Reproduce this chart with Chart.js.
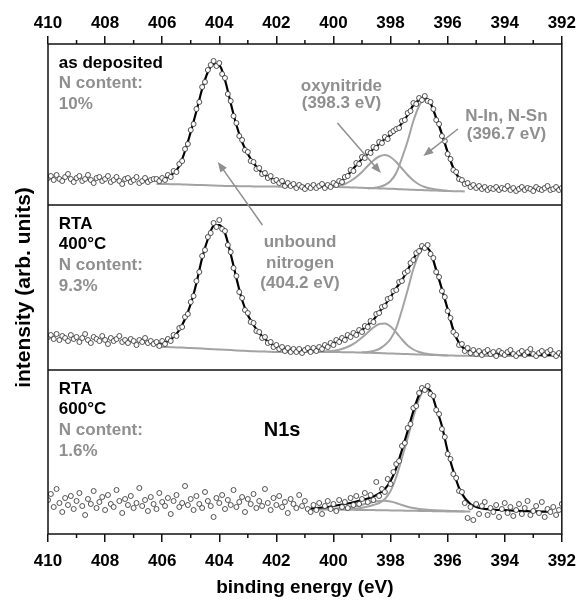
<!DOCTYPE html>
<html>
<head>
<meta charset="utf-8">
<script src="https://cdn.jsdelivr.net/npm/chart.js@4.4.1/dist/chart.umd.min.js"></script>
<style>
  body { margin: 0; background: #fff; }
  #wrap { width: 585px; height: 600px; }
</style>
</head>
<body>
<div id="wrap"><canvas id="xps" width="585" height="600"></canvas></div>
<script>
const _ = null;

// measured scan, 0.1 eV steps
const scanEnergy = [
  410.0,409.9,409.8,409.7,409.6,409.5,409.4,409.3,409.2,409.1,
  409.0,408.9,408.8,408.7,408.6,408.5,408.4,408.3,408.2,408.1,
  408.0,407.9,407.8,407.7,407.6,407.5,407.4,407.3,407.2,407.1,
  407.0,406.9,406.8,406.7,406.6,406.5,406.4,406.3,406.2,406.1,
  406.0,405.9,405.8,405.7,405.6,405.5,405.4,405.3,405.2,405.1,
  405.0,404.9,404.8,404.7,404.6,404.5,404.4,404.3,404.2,404.1,
  404.0,403.9,403.8,403.7,403.6,403.5,403.4,403.3,403.2,403.1,
  403.0,402.9,402.8,402.7,402.6,402.5,402.4,402.3,402.2,402.1,
  402.0,401.9,401.8,401.7,401.6,401.5,401.4,401.3,401.2,401.1,
  401.0,400.9,400.8,400.7,400.6,400.5,400.4,400.3,400.2,400.1,
  400.0,399.9,399.8,399.7,399.6,399.5,399.4,399.3,399.2,399.1,
  399.0,398.9,398.8,398.7,398.6,398.5,398.4,398.3,398.2,398.1,
  398.0,397.9,397.8,397.7,397.6,397.5,397.4,397.3,397.2,397.1,
  397.0,396.9,396.8,396.7,396.6,396.5,396.4,396.3,396.2,396.1,
  396.0,395.9,395.8,395.7,395.6,395.5,395.4,395.3,395.2,395.1,
  395.0,394.9,394.8,394.7,394.6,394.5,394.4,394.3,394.2,394.1,
  394.0,393.9,393.8,393.7,393.6,393.5,393.4,393.3,393.2,393.1,
  393.0,392.9,392.8,392.7,392.6,392.5,392.4,392.3,392.2,392.1,
  392.0
];

const topScan = [
  27,29,25,30,26,24,28,31,26,23, 27,29,24,26,30,25,22,27,28,24,
  26,29,23,25,28,24,21,26,27,23, 25,28,22,24,27,23,25,26,
  26,24,27,25,30,28,34,33,41,44, 56,61,75,81,96,103,118,123,135,140,
  144,139,142,131,127,111,104,89,82,69, 65,55,53,44,43,36,37,31,32,27,
  29,24,25,22,24,19,22,19,21,17, 20,18,16,19,17,20,17,19,21,17,
  20,18,22,20,24,23,28,29,35,34, 42,41,48,47,53,52,58,57,63,62,
  68,66,72,74,76,77,84,85,92,94, 102,101,107,105,109,104,103,96,85,81,
  69,64,51,46,35,33,26,25,21,22, 18,20,17,19,16,18,15,17,16,
  18,15,17,16,19,15,17,14,16,18, 15,17,16,14,18,16,15,17,19,15, 16,18,15,17
];

const midScan = [
  33,35,31,36,30,34,32,29,35,31, 33,28,32,36,30,27,33,31,29,34,
  30,26,32,29,31,34,28,30,27,31, 29,25,30,28,32,27,29,26,
  28,24,29,26,31,29,35,34,42,43, 53,56,68,74,89,98,114,120,133,137,
  147,143,150,141,139,125,118,102,94,78, 72,60,57,48,47,39,38,32,33,27,
  28,23,25,21,23,19,22,18,21,18, 21,17,20,22,18,22,19,23,21,25,
  23,27,25,30,28,32,30,35,33,37, 35,40,38,44,43,49,48,56,57,63,
  64,71,72,79,80,88,89,97,99,107, 110,117,119,124,122,125,116,112,98,93,
  79,73,59,52,38,35,25,26,19,22, 17,20,16,19,15,18,20,16,18,14,
  19,17,15,18,20,16,14,17,19,15, 18,21,16,14,17,19,15,18,20,16, 14,17,15
];

const botScan = [
  34,40,27,45,31,22,36,29,38,25, 33,41,28,19,35,30,43,26,32,37,
  24,39,30,27,44,33,21,35,29,38, 26,31,46,28,34,23,37,30,25,41,
  32,28,36,20,33,39,27,31,48,29, 35,24,38,30,26,42,33,28,17,36,
  31,39,25,34,29,44,27,32,37,22, 35,30,40,26,33,28,45,31,24,36,
  29,38,27,32,21,35,30,26,39,28, 33,25,
  22,29,24,31,20,28,33,25,30,23, 34,27,32,26,36,29,38,30,35,41,
  32,39,34,52,38,45,42,55,50,62, 70,73,88,91,106,110,126,128,141,146,
  144,148,140,138,124,120,105,97,80,75, 60,56,43,42,31,16,27,14,30,20,
  28,32,19,26,22,29,17,25,31,21, 27,18,24,30,20,26,33,19,23,28,
  21,32,17,25,22, 27,19,24,30
];

// fitted curves, 0.2 eV steps
const fitEnergy = [
  406.2,406.0,405.8,405.6,405.4,405.2,405.0,404.8,404.6,404.4,
  404.2,404.0,403.8,403.6,403.4,403.2,403.0,402.8,402.6,402.4,
  402.2,402.0,401.8,401.6,401.4,401.2,401.0,400.8,400.6,400.4,
  400.2,400.0,399.8,399.6,399.4,399.2,399.0,398.8,398.6,398.4,
  398.2,398.0,397.8,397.6,397.4,397.2,397.0,396.8,396.6,396.4,
  396.2,396.0,395.8,395.6,395.4,395.2,395.0,394.8,394.6,394.4,
  394.2,394.0,393.8,393.6,393.4,393.2,393.0,392.8,392.6,392.4,
  392.2
];

const topFit = [
  25,26,28,32,39,54,73,94,116,133, 141,140,125,102,80,63,51,42,35,30,
  27,24,22,20.5,19.5,18.8,18.5,18.3,18.3,18.5, 19,20,22.5,27,33,40,46,51,56,61,
  66,70,75,82,90,100,105,107,102,87, 71,53,37,27,22,19.5,18,17,16.5,16,
  _,_,_,_,_,_,_,_,_,_, _
];
const topBg = [
  21,21,20.9,20.8,20.7,20.5,20.3,20.1,19.9,19.7, 19.5,19.3,19.1,19.0,18.9,18.8,18.7,18.6,18.5,18.5,
  18.4,18.4,18.3,18.3,18.3,18.3,18.2,18.2,18.1,18.1, 18.0,18.0,17.9,17.8,17.6,17.4,17.2,17.0,16.8,16.6,
  16.4,16.2,16.0,15.7,15.5,15.2,15.0,14.8,14.6,14.4, 14.2,14.0,13.8,13.7,13.6,_,_,_,_,_,
  _,_,_,_,_,_,_,_,_,_, _
];
const topOxy = [
  _,_,_,_,_,_,_,_,_,_, _,_,_,_,_,_,_,_,_,_, _,_,_,_,_,_,_,_,_,_,
  18.2,18.5,19.3,21,24,28,33,39,44.5,48.5, 50,48,43,36.5,30,24.5,20.5,18,16.5,15.5,
  14.8,14.3,_,_,_,_,_,_,_,_, _,_,_,_,_,_,_,_,_,_, _
];
const topNIn = [
  _,_,_,_,_,_,_,_,_,_, _,_,_,_,_,_,_,_,_,_, _,_,_,_,_,_,_,_,_,_,
  _,_,_,_,_,_,_,16.5,17,18, 20,24,32,47,64,84,99,106,101,86.5,
  70.5,52.5,36.5,26.5,21.5,_,_,_,_,_, _,_,_,_,_,_,_,_,_,_, _
];

const midFit = [
  26,26.7,29,33,40,51,66,87,112,131, 144,145,137,116,92,70,55,45,37,31,
  26.5,23.5,21.5,20.5,20,19.5,19.5,20,21,22.5, 24.5,27,29.5,32,34.5,36.5,40,45,50,58,
  65,73,82,90,100,111,120,123,118,100, 81,61,40,27,21,19,18,17.3,16.8,16.5,
  16.2,16,15.8,15.6,15.5,15.4,15.3,15.2,15.1,15, 15
];
const midBg = [
  23.3,23.1,22.9,22.7,22.5,22.3,22.0,21.7,21.4,21.1, 20.8,20.5,20.2,19.9,19.6,19.3,19.0,18.8,18.6,18.4,
  18.2,18,18,18,18,18,18,18,18,18, 18,18,17.9,17.8,17.7,17.6,17.5,17.3,17.1,16.9,
  16.7,16.5,16.3,16.1,15.9,15.7,15.5,15.3,15.1,14.9, 14.7,14.5,14.4,14.3,14.2,14.1,14,14,14,14,
  14,14,14,14,14,14,14,14,14,14, 14
];
const midOxy = [
  _,_,_,_,_,_,_,_,_,_, _,_,_,_,_,_,_,_,_,_, _,_,_,_,_,_,_,_,_,18.5,
  18.8,19.3,20.2,22,24.5,28,32.5,37.5,42.5,46, 46.5,43.5,37.5,30.5,24.5,20.5,18,16.5,15.7,15.2,
  14.8,14.5,_,_,_,_,_,_,_,_, _,_,_,_,_,_,_,_,_,_, _
];
const midNIn = [
  _,_,_,_,_,_,_,_,_,_, _,_,_,_,_,_,_,_,_,_, _,_,_,_,_,_,_,_,_,_,
  _,_,_,_,_,_,17.5,18,19,21, 25,31,42,60,80,101,116,122,117.5,99.5,
  80.5,60.5,39.5,26.5,20.5,_,_,_,_,_, _,_,_,_,_,_,_,_,_,_, _
];

const botFit = [
  _,_,_,_,_,_,_,_,_,_, _,_,_,_,_,_,_,_,_,_, _,_,_,_,_,_,_,25.5,26,26.5,
  27,28,29,30,31,32.5,34,35.5,37.5,40.5, 45,53,66,84,103,123,139,146,143,126,
  108,83,63,46,36,30,27,25.5,24.8,24.3, 24,23.8,23.5,23.3,23,22.8,22.6,22.5,22.4,22.3,
  _
];
const botBg = [
  _,_,_,_,_,_,_,_,_,_, _,_,_,_,_,_,_,_,_,_, _,_,_,_,_,_,_,24.5,24.5,24.4,
  24.4,24.3,24.3,24.2,24.2,24.1,24.0,24.0,23.9,23.8, 23.7,23.6,23.5,23.4,23.3,23.2,23.1,23.0,22.9,22.8,
  22.7,22.6,22.6,22.5,22.5,22.4,_,_,_,_, _,_,_,_,_,_,_,_,_,_, _
];
const botOxy = [
  _,_,_,_,_,_,_,_,_,_, _,_,_,_,_,_,_,_,_,_, _,_,_,_,_,_,_,24.6,24.7,24.8,
  25.0,25.3,25.7,26.3,27.0,28.0,29.3,30.8,32.0,33.0, 33.3,32.5,31.0,29.0,27.3,26.0,25.0,24.4,24.0,23.7,
  23.4,23.2,23.0,22.8,22.6,_,_,_,_,_, _,_,_,_,_,_,_,_,_,_, _
];
const botNIn = [
  _,_,_,_,_,_,_,_,_,_, _,_,_,_,_,_,_,_,_,_, _,_,_,_,_,_,_,_,_,_,
  _,_,_,24.5,25,25.5,26.3,27.5,29,31, 35,43,57,76,96,117,135,144,142,_,
  _,_,_,_,_,_,_,_,_,_, _,_,_,_,_,_,_,_,_,_, _
];

const majorTicks = [410, 408, 406, 404, 402, 400, 398, 396, 394, 392];
const minorTicks = [409, 407, 405, 403, 401, 399, 397, 395, 393];

const FONT = "'Liberation Sans', Arial, Helvetica, sans-serif";
const GRAY = '#8f8f8f';
const CURVE_GRAY = '#a3a3a3';

function toPoints(xs, ys) {
  const pts = [];
  ys.forEach((y, i) => { if (y !== null && xs[i] !== undefined) pts.push({x: xs[i], y: y}); });
  return pts;
}

const panels = [
  {axis: 'yTop', scan: topScan, fit: topFit, parts: [topBg, topOxy, topNIn]},
  {axis: 'yMid', scan: midScan, fit: midFit, parts: [midBg, midOxy, midNIn]},
  {axis: 'yBot', scan: botScan, fit: botFit, parts: [botBg, botOxy, botNIn]}
];

const datasets = [];
panels.forEach(p => {
  p.parts.forEach(part => {
    datasets.push({
      data: toPoints(fitEnergy, part), yAxisID: p.axis, showLine: true,
      borderColor: CURVE_GRAY, borderWidth: 2, pointRadius: 0,
      cubicInterpolationMode: 'monotone', order: 3
    });
  });
  datasets.push({
    data: toPoints(fitEnergy, p.fit), yAxisID: p.axis, showLine: true,
    borderColor: '#000', borderWidth: 2.2, pointRadius: 0,
    cubicInterpolationMode: 'monotone', order: 2
  });
  datasets.push({
    data: toPoints(scanEnergy, p.scan), yAxisID: p.axis, showLine: false,
    pointRadius: 2.5, pointBorderWidth: 0.8, pointBorderColor: '#2a2a2a',
    pointBackgroundColor: '#fff', order: 1
  });
});

// labels in data coordinates (eV, panel intensity)
const panelNotes = [
  {axis: 'yTop', lines: [['as deposited', '#000'], ['N content:', GRAY], ['10%', GRAY]]},
  {axis: 'yMid', lines: [['RTA', '#000'], ['400°C', '#000'], ['N content:', GRAY], ['9.3%', GRAY]]},
  {axis: 'yBot', lines: [['RTA', '#000'], ['600°C', '#000'], ['N content:', GRAY], ['1.6%', GRAY]]}
];
const callouts = [
  {axis: 'yTop', e: 399.72, v: 119, text: 'oxynitride'},
  {axis: 'yTop', e: 399.72, v: 102, text: '(398.3 eV)'},
  {axis: 'yTop', e: 393.94, v: 89, text: 'N-In, N-Sn'},
  {axis: 'yTop', e: 393.94, v: 71, text: '(396.7 eV)'},
  {axis: 'yMid', e: 401.17, v: 128, text: 'unbound'},
  {axis: 'yMid', e: 401.17, v: 107, text: 'nitrogen'},
  {axis: 'yMid', e: 401.17, v: 87, text: '(404.2 eV)'}
];
const arrows = [
  {from: ['yTop', 399.86, 82], to: ['yTop', 398.34, 32]},
  {from: ['yTop', 395.64, 76], to: ['yTop', 396.85, 49]},
  {from: ['yMid', 402.49, 145], to: ['yTop', 404.05, 43]}
];

const decor = {
  id: 'decor',
  afterDraw(chart) {
    const {ctx, chartArea: a, scales: s} = chart;
    ctx.save();

    // frame, panel dividers, minor ticks
    ctx.strokeStyle = '#111';
    ctx.lineWidth = 1.5;
    ctx.strokeRect(a.left, a.top, a.right - a.left, a.bottom - a.top);
    [s.yTop.bottom, s.yMid.bottom].forEach(y => {
      ctx.beginPath(); ctx.moveTo(a.left, y); ctx.lineTo(a.right, y); ctx.stroke();
    });
    minorTicks.forEach(e => {
      const px = s.x.getPixelForValue(e);
      ctx.beginPath();
      ctx.moveTo(px, a.top); ctx.lineTo(px, a.top - 4);
      ctx.moveTo(px, a.bottom); ctx.lineTo(px, a.bottom + 4);
      ctx.stroke();
    });

    // arrows
    ctx.strokeStyle = GRAY; ctx.fillStyle = GRAY; ctx.lineWidth = 1.5;
    arrows.forEach(ar => {
      const x1 = s.x.getPixelForValue(ar.from[1]), y1 = s[ar.from[0]].getPixelForValue(ar.from[2]);
      const x2 = s.x.getPixelForValue(ar.to[1]), y2 = s[ar.to[0]].getPixelForValue(ar.to[2]);
      const ang = Math.atan2(y2 - y1, x2 - x1);
      ctx.beginPath(); ctx.moveTo(x1, y1);
      ctx.lineTo(x2 - 6 * Math.cos(ang), y2 - 6 * Math.sin(ang)); ctx.stroke();
      ctx.beginPath();
      ctx.moveTo(x2, y2);
      ctx.lineTo(x2 - 10 * Math.cos(ang) + 4 * Math.sin(ang), y2 - 10 * Math.sin(ang) - 4 * Math.cos(ang));
      ctx.lineTo(x2 - 10 * Math.cos(ang) - 4 * Math.sin(ang), y2 - 10 * Math.sin(ang) + 4 * Math.cos(ang));
      ctx.closePath(); ctx.fill();
    });

    // text
    ctx.textBaseline = 'middle';
    ctx.font = 'bold 17px ' + FONT;
    ctx.textAlign = 'left';
    panelNotes.forEach(n => {
      const x0 = s.x.getPixelForValue(409.62);
      n.lines.forEach((ln, i) => {
        ctx.fillStyle = ln[1];
        ctx.fillText(ln[0], x0, s[n.axis].top + 19 + i * 20.7);
      });
    });
    ctx.textAlign = 'center';
    ctx.fillStyle = GRAY;
    callouts.forEach(c => {
      ctx.fillText(c.text, s.x.getPixelForValue(c.e), s[c.axis].getPixelForValue(c.v));
    });
    ctx.fillStyle = '#000';
    ctx.font = 'bold 20px ' + FONT;
    ctx.fillText('N1s', s.x.getPixelForValue(401.8), s.yBot.getPixelForValue(104));

    ctx.restore();
  }
};

const tickFont = {family: FONT, size: 17, weight: 'bold'};
const titleFont = {family: FONT, size: 19, weight: 'bold'};

function xAxis(position, height, pad, withTitle) {
  return {
    type: 'linear', position: position, reverse: true, min: 392, max: 410,
    afterBuildTicks: sc => { sc.ticks = majorTicks.map(v => ({value: v})); },
    ticks: {font: tickFont, color: '#000', padding: pad},
    grid: {drawOnChartArea: false, tickLength: 8, color: '#111', lineWidth: 1.5},
    border: {display: false},
    title: {display: withTitle, text: 'binding energy (eV)', font: titleFont, color: '#000', padding: {top: 0, bottom: 1}},
    afterFit: sc => { sc.height = height; }
  };
}

function yAxis(max, weight, withTitle) {
  return {
    type: 'linear', position: 'left', stack: 'panels', stackWeight: max, weight: weight,
    min: 0, max: max,
    ticks: {display: false},
    grid: {display: false},
    border: {display: false},
    title: {display: withTitle, text: 'intensity (arb. units)', font: {family: FONT, size: 21, weight: 'bold'},
            color: '#000', padding: {top: 12, bottom: 0}},
    afterFit: sc => { sc.width = 48; }
  };
}

new Chart(document.getElementById('xps'), {
  type: 'scatter',
  data: {datasets: datasets},
  options: {
    responsive: false,
    animation: false,
    layout: {padding: {left: 0, right: 17, top: 0, bottom: 0}},
    plugins: {legend: {display: false}, tooltip: {enabled: false}},
    scales: {
      x: xAxis('bottom', 66, 9, true),
      x2: xAxis('top', 44, 2, false),
      yBot: yAxis(164, 1, false),
      yMid: yAxis(165, 2, true),
      yTop: yAxis(161, 3, false)
    }
  },
  plugins: [decor]
});
</script>
</body>
</html>
